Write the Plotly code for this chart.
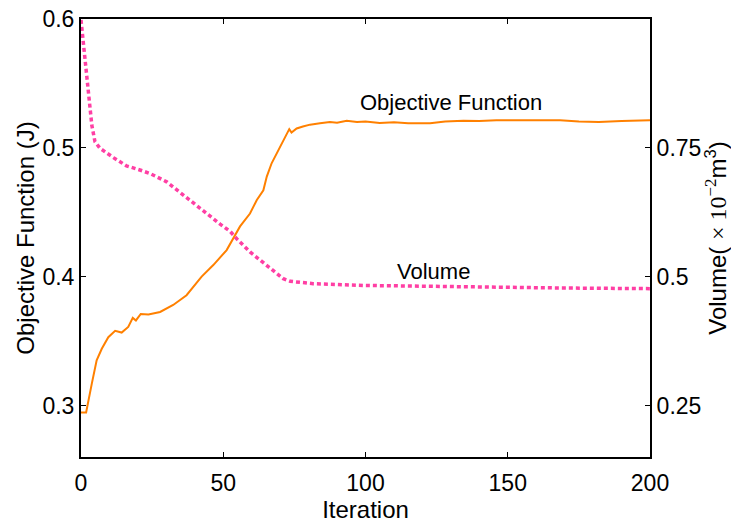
import plotly.graph_objects as go

# Objective function (left axis)
obj_iter = [0, 1.8, 3.8, 5.5, 7.3, 9.6, 12, 14.3, 16.6, 18.2, 19.3, 21, 23.7, 27.8, 32.4,
            37.1, 42.4, 46.5, 51.2, 55.9, 59.4, 61.8, 64.1, 65.3, 67, 69.4, 71.1, 73.2, 74,
            75.8, 78, 80.5, 84, 87.5, 90, 93.4, 97, 100, 105, 110, 115, 122.7, 128, 134.4,
            140, 146, 152, 160, 168.4, 175, 182, 190, 200]
obj_val = [0.2946, 0.2946, 0.317, 0.335, 0.344, 0.353, 0.358, 0.3566, 0.361, 0.368, 0.366,
           0.371, 0.3706, 0.3726, 0.378, 0.3856, 0.400, 0.409, 0.4206, 0.439, 0.449, 0.4595,
           0.467, 0.4777, 0.488, 0.498, 0.506, 0.5145, 0.5118, 0.515, 0.5165, 0.518, 0.519,
           0.520, 0.5195, 0.521, 0.520, 0.5205, 0.5192, 0.5198, 0.519, 0.519, 0.5205, 0.521,
           0.5208, 0.5214, 0.5214, 0.5212, 0.5214, 0.5205, 0.520, 0.5208, 0.5214]

# Volume (right axis)
vol_iter = [0, 1, 2, 2.9, 3.8, 4.9, 6.7, 11.4, 16, 20.7, 24.3, 30.1, 37.2, 41.8, 48.9,
            52.4, 55, 59.4, 65.3, 71.1, 73.5, 81.6, 99.2, 134.4, 168.4, 200]
vol_val = [0.998, 0.944, 0.879, 0.827, 0.794, 0.762, 0.749, 0.731, 0.715, 0.707, 0.700,
           0.684, 0.653, 0.632, 0.602, 0.588, 0.572, 0.548, 0.522, 0.496, 0.491, 0.4864,
           0.483, 0.480, 0.478, 0.4767]

x_ticks = [0, 50, 100, 150, 200]
y_ticks = [0.3, 0.4, 0.5, 0.6]
y_tick_text = ["0.3", "0.4", "0.5", "0.6"]
y2_ticks = [0.25, 0.5, 0.75]
y2_tick_text = ["0.25", "0.5", "0.75"]

FONT = "Liberation Sans, Arial, sans-serif"

fig = go.Figure()
fig.add_trace(go.Scatter(x=obj_iter, y=obj_val, mode="lines",
                         line=dict(color="#ff8000", width=2), yaxis="y"))
fig.add_trace(go.Scatter(x=vol_iter, y=vol_val, mode="lines",
                         line=dict(color="#ff3fa4", width=3.5, dash="4px,3px"), yaxis="y2"))

axis_common = dict(showline=True, linecolor="black", linewidth=2, ticks="inside",
                   ticklen=5, tickwidth=1, tickcolor="black", showgrid=False,
                   zeroline=False, automargin=False,
                   tickfont=dict(family=FONT, size=23, color="black"))

fig.update_layout(
    width=731, height=525,
    margin=dict(l=81, r=81, t=19, b=68, autoexpand=False),
    plot_bgcolor="white", paper_bgcolor="white",
    showlegend=False,
    font=dict(family=FONT, color="black"),
    xaxis=dict(range=[0, 200], tickvals=x_ticks, mirror="ticks", ticklabelstandoff=4,
               title=dict(text="Iteration", font=dict(size=24), standoff=7),
               **axis_common),
    yaxis=dict(range=[0.26, 0.6], tickvals=y_ticks, ticktext=y_tick_text,
               title=dict(text="Objective Function (J)", font=dict(size=24), standoff=1),
               **axis_common),
    yaxis2=dict(range=[0.15, 1.0], tickvals=y2_ticks, ticktext=y2_tick_text,
                overlaying="y", side="right",
                title=dict(text="Volume( <span style='font-family:Liberation Serif'>× 10<sup>−2</sup></span>m<sup>3</sup>)",
                           font=dict(size=24), standoff=4),
                **axis_common),
    annotations=[
        dict(x=130, y=0.535, xref="x", yref="y", text="Objective Function",
             showarrow=False, font=dict(size=22, family=FONT, color="black")),
        dict(x=124, y=0.51, xref="x", yref="y2", text="Volume",
             showarrow=False, font=dict(size=22, family=FONT, color="black")),
    ],
)

fig.write_html("out.html", config={"displayModeBar": False},
               post_script="document.body.style.margin='0';document.body.style.overflow='hidden';")
